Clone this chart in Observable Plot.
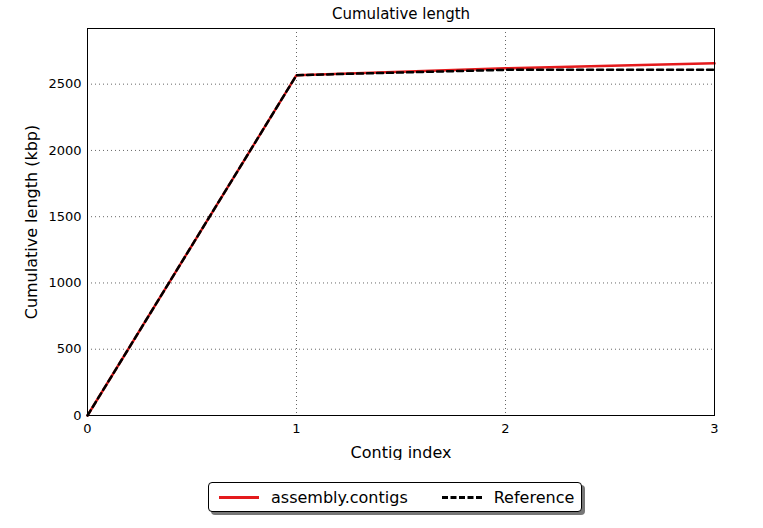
<!DOCTYPE html>
<html><head>
<script src="https://cdn.jsdelivr.net/npm/d3@7"></script>
<script src="https://cdn.jsdelivr.net/npm/@observablehq/plot@0.6"></script>
<style>
body{margin:0;background:#fff;font-family:"DejaVu Sans",sans-serif;}
#legend{position:absolute;left:208px;top:482px;width:372px;height:28px;border:1px solid #000;border-radius:4px;background:#fff;box-shadow:3px 3px 0 #777;font-size:16px;display:flex;align-items:center;white-space:nowrap;}
.it{display:flex;align-items:center;margin-left:10px;}
.sw{width:40px;height:0;margin-right:12px;}
</style></head><body>
<div id="chart"></div>
<div id="legend">
 <div class="it"><div class="sw" style="border-top:3px solid #e41a1c"></div>assembly.contigs</div>
 <div class="it" style="margin-left:34px"><div class="sw" style="border-top:3px dashed #000"></div>Reference</div>
</div>
<script>
const contigIndex=[0,1,2,3];
const assembly=[0,2568,2620,2657];
const reference=[0,2568,2608,2608];
const xTicks=[0,1,2,3];
const yTicks=[0,500,1000,1500,2000,2500];
const rows=s=>contigIndex.map((x,i)=>({x,y:s[i]}));
const p=Plot.plot({
 width:763,height:460,marginLeft:87,marginRight:49,marginTop:28,marginBottom:45,
 style:{fontFamily:"DejaVu Sans",fontSize:"13px",color:"#000"},
 x:{domain:[0,3],ticks:xTicks,tickFormat:"d",label:"Contig index",labelAnchor:"center",labelArrow:"none",tickSize:0,tickPadding:8,grid:false},
 y:{domain:[0,2920],ticks:yTicks,tickFormat:"d",label:"Cumulative length (kbp)",labelAnchor:"center",labelArrow:"none",labelOffset:62,tickSize:0,tickPadding:6},
 marks:[
  Plot.gridX(xTicks,{stroke:"#000",strokeOpacity:0.6,strokeDasharray:"1,3"}),
  Plot.gridY(yTicks,{stroke:"#000",strokeOpacity:0.6,strokeDasharray:"1,3"}),
  Plot.lineY(rows(assembly),{x:"x",y:"y",stroke:"#e41a1c",strokeWidth:2.5}),
  Plot.lineY(rows(reference),{x:"x",y:"y",stroke:"#000",strokeWidth:2.5,strokeDasharray:"6,4"}),
  Plot.frame({stroke:"#000"}),
  Plot.text(["Cumulative length"],{frameAnchor:"top",dy:-20,fontSize:15})
 ]
});
p.querySelectorAll("g[aria-label='x-axis label'], g[aria-label='y-axis label']").forEach(e=>e.style.fontSize="16px");
document.getElementById("chart").append(p);
</script></body></html>
